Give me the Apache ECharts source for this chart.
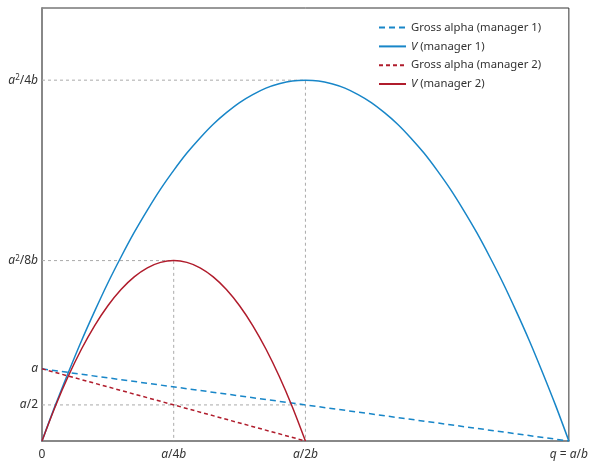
<!DOCTYPE html>
<html>
<head>
<meta charset="utf-8">
<script src="https://cdn.jsdelivr.net/npm/echarts@6/dist/echarts.min.js"></script>
<style>html,body{margin:0;padding:0;background:#fff}#c{width:591px;height:462px}</style>
</head>
<body>
<div id="c"></div>
<script>
// q measured in units of a/b; values measured in units of a
var q1 = [0,0.025,0.05,0.075,0.1,0.125,0.15,0.175,0.2,0.225,0.25,0.275,0.3,0.325,0.35,0.375,0.4,0.425,0.45,0.475,0.5,
          0.525,0.55,0.575,0.6,0.625,0.65,0.675,0.7,0.725,0.75,0.775,0.8,0.825,0.85,0.875,0.9,0.925,0.95,0.975,1];
var vManager1 = [0,0.49,0.95,1.39,1.8,2.19,2.55,2.89,3.2,3.49,3.75,3.99,4.2,4.39,4.55,4.69,4.8,4.89,4.95,4.99,5,
                 4.99,4.95,4.89,4.8,4.69,4.55,4.39,4.2,3.99,3.75,3.49,3.2,2.89,2.55,2.19,1.8,1.39,0.95,0.49,0];
var q2 = [0,0.025,0.05,0.075,0.1,0.125,0.15,0.175,0.2,0.225,0.25,0.275,0.3,0.325,0.35,0.375,0.4,0.425,0.45,0.475,0.5];
var vManager2 = [0,0.475,0.9,1.275,1.6,1.875,2.1,2.275,2.4,2.475,2.5,2.475,2.4,2.275,2.1,1.875,1.6,1.275,0.9,0.475,0];
var alphaQ1 = [0,1];
var alphaManager1 = [1,0];
var alphaQ2 = [0,0.5];
var alphaManager2 = [1,0];
var xTickValues = [0,0.25,0.5,1];
var xTickLabels = ['0','{i|a}/4{i|b}','{i|a}/2{i|b}','{i|q} = {i|a}/{i|b}'];
var yTickValues = [0.5,1,2.5,5];
var yTickLabels = ['{i|a}/2','{i|a}','{i|a}{sup|2}/8{i|b}','{i|a}{sup|2}/4{i|b}'];
var guideTop = [[0,5],[0.5,5],[0.5,0]];
var guideMid = [[0,2.5],[0.25,2.5],[0.25,0]];
var guideHalf = [[0,0.5],[0.5,0.5]];
var seriesNames = ['Gross alpha (manager 1)','V (manager 1)','Gross alpha (manager 2)','V (manager 2)'];

function zip(a,b){return a.map(function(v,i){return [v,b[i]];});}
var FONT = 'Noto Sans';
var rich = {
  i:{fontStyle:'italic',fontFamily:FONT,fontSize:12,color:'#333'},
  sup:{fontFamily:FONT,fontSize:8,color:'#333',verticalAlign:'top'},
  n:{fontFamily:FONT,fontSize:12,color:'#333'}
};
var BLUE='#1886c8', RED='#b01c2c', GRAY='#aaaaaa';
var guideStyle={color:GRAY,width:1,type:[3,3]};
function guide(d){return {type:'line',data:d,symbol:'none',silent:true,lineStyle:guideStyle,z:1,legendHoverLink:false,animation:false};}

var chart = echarts.init(document.getElementById('c'));
chart.setOption({
  animation:false,
  grid:{left:42,right:22,top:8,bottom:21,show:true,borderColor:'#333',borderWidth:1},
  xAxis:{type:'value',min:0,max:1,splitLine:{show:false},
    axisLine:{lineStyle:{color:'#888',width:2}},axisTick:{show:false},
    axisLabel:{customValues:xTickValues,margin:8,fontFamily:FONT,fontSize:12,color:'#333',rich:rich,
      formatter:function(v){var k=xTickValues.indexOf(v);return k>=0?xTickLabels[k]:'';}}},
  yAxis:{type:'value',min:0,max:6,splitLine:{show:false},
    axisLine:{lineStyle:{color:'#888',width:2}},axisTick:{show:false},
    axisLabel:{customValues:yTickValues,margin:4,fontFamily:FONT,fontSize:12,color:'#333',rich:rich,
      formatter:function(v){var k=yTickValues.indexOf(v);return k>=0?yTickLabels[k]:'';}}},
  legend:{orient:'vertical',left:373,top:17,itemWidth:27,itemHeight:14,itemGap:7.6,
    itemStyle:{opacity:0},
    data:seriesNames,
    textStyle:{fontFamily:FONT,fontSize:11.3,color:'#333',
      rich:{i:{fontStyle:'italic',fontFamily:FONT,fontSize:11.3,color:'#333'}}},
    formatter:function(n){return n.replace(/^V /,'{i|V} ');}},
  series:[
    guide(guideTop),guide(guideMid),guide(guideHalf),
    {name:seriesNames[0],type:'line',data:zip(alphaQ1,alphaManager1),symbol:'none',z:3,
      lineStyle:{color:BLUE,width:1.5,type:[6,4]},itemStyle:{color:BLUE}},
    {name:seriesNames[1],type:'line',data:zip(q1,vManager1),symbol:'none',smooth:0.3,z:3,
      lineStyle:{color:BLUE,width:1.5},itemStyle:{color:BLUE}},
    {name:seriesNames[2],type:'line',data:zip(alphaQ2,alphaManager2),symbol:'none',z:3,
      lineStyle:{color:RED,width:1.5,type:[4,3]},itemStyle:{color:RED}},
    {name:seriesNames[3],type:'line',data:zip(q2,vManager2),symbol:'none',smooth:0.3,z:3,
      lineStyle:{color:RED,width:1.5},itemStyle:{color:RED}}
  ]
});
</script>
</body>
</html>
